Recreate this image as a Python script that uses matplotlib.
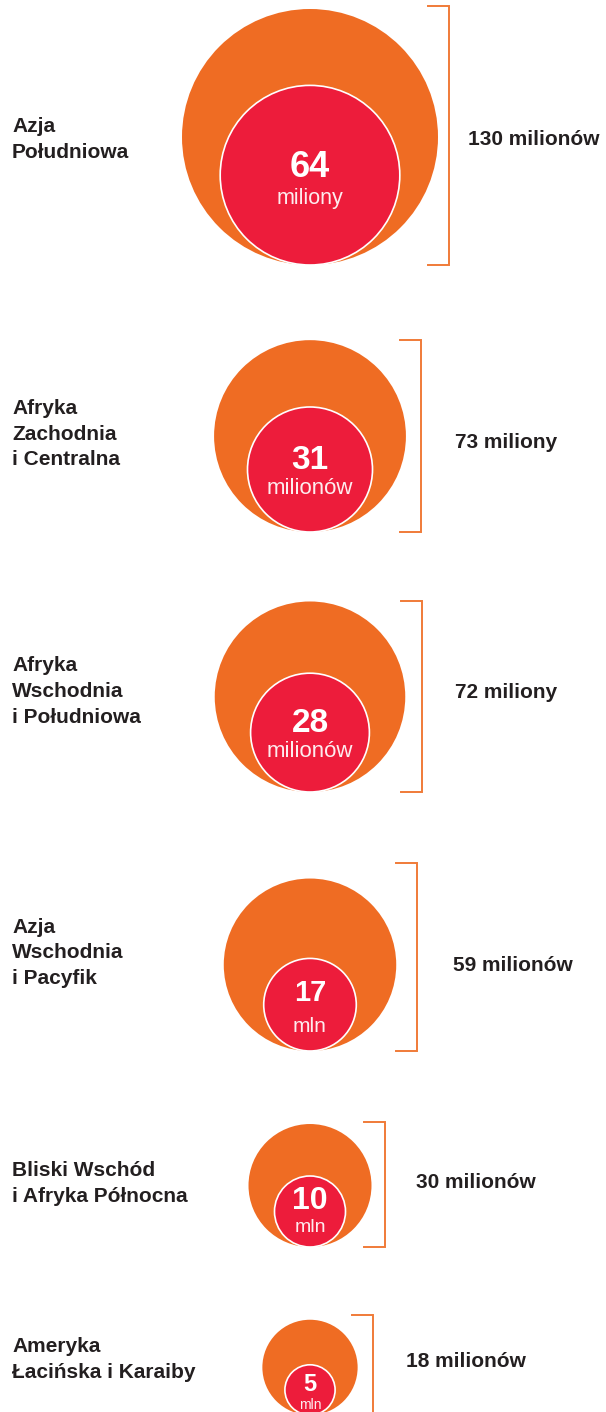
import numpy as np
import matplotlib
matplotlib.use("Agg")
import matplotlib.pyplot as plt
from matplotlib.patches import Circle

# ---- data ----
regions = ["Azja\nPołudniowa",
           "Afryka\nZachodnia\ni Centralna",
           "Afryka\nWschodnia\ni Południowa",
           "Azja\nWschodnia\ni Pacyfik",
           "Bliski Wschód\ni Afryka Północna",
           "Ameryka\nŁacińska i Karaiby"]
totals = [130, 73, 72, 59, 30, 18]
total_labels = ["130 milionów", "73 miliony", "72 miliony",
                "59 milionów", "30 milionów", "18 milionów"]
inner_values = [64, 31, 28, 17, 10, 5]
inner_units = ["miliony", "milionów", "milionów", "mln", "mln", "mln"]

# ---- layout (pixels) ----
W, H = 606, 1412
cx = 310
bottoms = [265, 532, 792, 1051, 1247, 1415]
r_max = 128.0
scale = r_max / np.sqrt(max(totals))
bracket_gap = [11, 15, 17, 21, 14, 15]
bracket_extra_top = [3, 0, 0, 16, 2, 5]
tick_len = 21
right_label_x = [468, 455, 455, 453, 416, 406]
num_off = [-8, -9, -9, -12, -10, -5]
unit_off = [23, 19, 19, 22, 16, 15]
num_size = [26, 24, 24, 21, 23, 17]
unit_size = [15.5, 16, 16, 15, 14, 10]
left_off = [4, -2, -5, -4, -1, -5]
right_off = [4, 6, -4, 9, -2, -3]

ORANGE = "#EF6C23"
RED = "#ED1C3B"
BRACKET = "#F07B38"
DARK = "#231F20"

plt.rcParams['font.family'] = ['Liberation Sans', 'DejaVu Sans']

fig = plt.figure(figsize=(W / 100, H / 100), dpi=100)
ax = fig.add_axes([0, 0, 1, 1])
ax.set_xlim(0, W)
ax.set_ylim(H, 0)
ax.axis('off')

for i in range(len(totals)):
    R = scale * np.sqrt(totals[i])
    r = scale * np.sqrt(inner_values[i])
    bot = bottoms[i]
    cyo = bot - R
    cyi = bot - r
    ax.add_patch(Circle((cx, cyo), R, facecolor=ORANGE, edgecolor='none', zorder=1))
    ax.add_patch(Circle((cx, cyi), r, facecolor=RED, edgecolor='white', lw=1.2, zorder=2))
    # bracket
    bx = cx + R + bracket_gap[i]
    top = bot - 2 * R - bracket_extra_top[i]
    ax.plot([bx - tick_len, bx, bx, bx - tick_len], [top, top, bot, bot],
            color=BRACKET, lw=1.4, solid_joinstyle='miter', zorder=3)
    bc = (top + bot) / 2
    ax.text(12, bc + left_off[i], regions[i], ha='left', va='center',
            fontsize=15, fontweight='bold', color=DARK, linespacing=1.45)
    ax.text(right_label_x[i], bc + right_off[i], total_labels[i], ha='left',
            va='center', fontsize=15, fontweight='bold', color=DARK)
    ax.text(cx, cyi + num_off[i], str(inner_values[i]), ha='center', va='center',
            fontsize=num_size[i], fontweight='bold', color='white', zorder=4)
    ax.text(cx, cyi + unit_off[i], inner_units[i], ha='center', va='center',
            fontsize=unit_size[i], color='white', alpha=0.92, zorder=4)

fig.savefig("out.png", dpi=100, facecolor='white')
